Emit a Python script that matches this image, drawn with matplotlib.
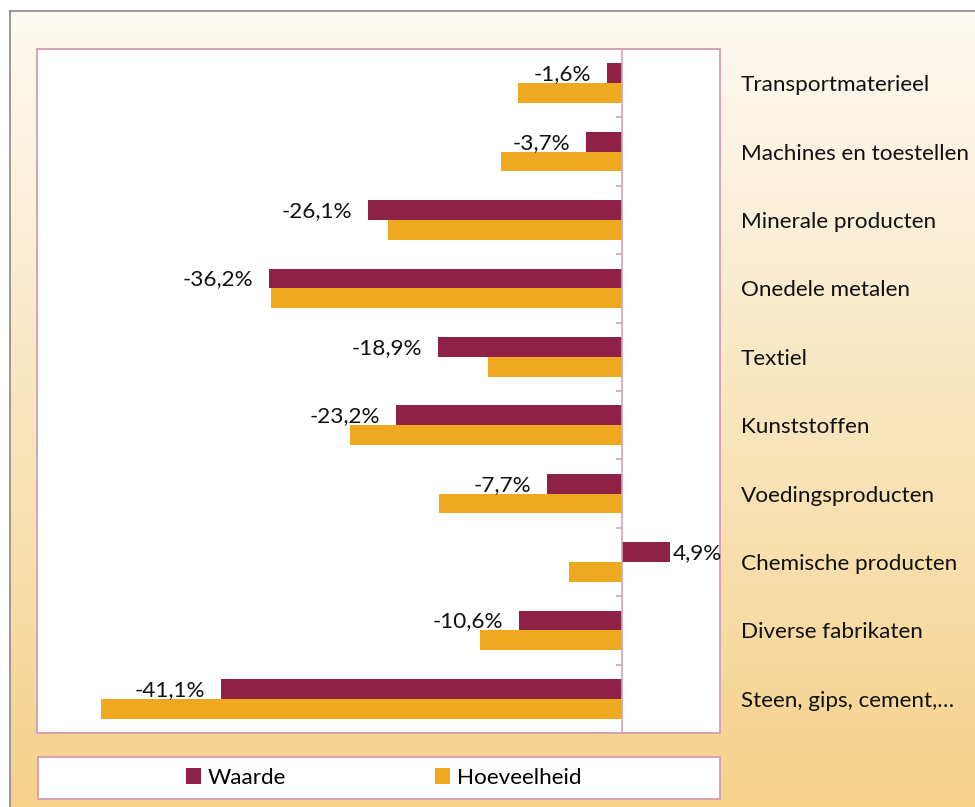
import numpy as np
import matplotlib
matplotlib.use("Agg")
import matplotlib.pyplot as plt
from matplotlib.patches import Rectangle, Patch
from matplotlib.transforms import blended_transform_factory, offset_copy

categories = ["Transportmaterieel", "Machines en toestellen", "Minerale producten",
              "Onedele metalen", "Textiel", "Kunststoffen", "Voedingsproducten",
              "Chemische producten", "Diverse fabrikaten", "Steen, gips, cement,…"]
waarde = [-1.6, -3.7, -26.1, -36.2, -18.9, -23.2, -7.7, 4.9, -10.6, -41.1]
hoeveelheid = [-10.7, -12.4, -24.0, -36.0, -13.8, -27.9, -18.8, -5.5, -14.6, -53.4]
series_names = ["Waarde", "Hoeveelheid"]

C_W = "#8E2246"
C_H = "#EFA822"
PINK = "#D6A2B4"
FS = 16.2

plt.rcParams['font.family'] = ['Lato', 'DejaVu Sans']

W, H = 975, 807
fig = plt.figure(figsize=(W / 100, H / 100), dpi=100)
fig.patch.set_facecolor("white")

def fx(px):
    return px / W

def fy(py):
    return 1 - py / H

# background gradient
bg = fig.add_axes([fx(10), 0, 1 - fx(10), fy(11)])
grad = np.linspace(0, 1, 256).reshape(-1, 1)
top = np.array([0xFD, 0xFA, 0xF3]) / 255
bot = np.array([0xF5, 0xD2, 0x8C]) / 255
img = top[None, None, :] * (1 - grad[:, :, None]) + bot[None, None, :] * grad[:, :, None]
bg.imshow(img, aspect="auto", extent=[0, 1, 0, 1], origin="upper")
bg.set_xlim(0, 1); bg.set_ylim(0, 1)
bg.set_xticks([]); bg.set_yticks([])
for s in ["right", "bottom"]:
    bg.spines[s].set_visible(False)
for s in ["left", "top"]:
    bg.spines[s].set_color("#8A8A8A")
    bg.spines[s].set_linewidth(1.2)

# main plot
ax = fig.add_axes([fx(37), fy(733), fx(720) - fx(37), fy(49) - fy(733)])
ax.set_facecolor("white")
y = np.arange(len(categories))
bh = 0.29
ax.barh(y - bh / 2, waarde, height=bh, color=C_W, label=series_names[0], zorder=2)
ax.barh(y + bh / 2, hoeveelheid, height=bh, color=C_H, label=series_names[1], zorder=2)
ax.set_xlim(-60, 10)
ax.set_ylim(len(categories) - 0.5, -0.5)

for s in ["top", "right", "bottom"]:
    ax.spines[s].set_visible(False)
ax.spines["left"].set_position(("data", 0))
ax.spines["left"].set_color(PINK)
ax.spines["left"].set_linewidth(1.2)
ax.spines["left"].set_zorder(3)
ax.set_xticks([])
ax.set_yticks(y)
ax.set_yticklabels([])
ax.tick_params(axis="y", which="major", length=0)
ax.set_yticks(np.arange(len(categories) + 1) - 0.5, minor=True)
ax.tick_params(axis="y", which="minor", length=4.5, width=1.2, color=PINK, direction="out")

ax.add_patch(Rectangle((0, 0), 1, 1, transform=ax.transAxes, fill=False,
                       edgecolor=PINK, linewidth=1.4, clip_on=False, zorder=4))

for yi, v in zip(y, waarde):
    lab = f"{v:.1f}%".replace(".", ",")
    if v < 0:
        ax.annotate(lab, (v, yi - bh / 2), xytext=(-16, -1), textcoords="offset pixels",
                    ha="right", va="center", fontsize=FS, color="#111111", zorder=5)
    else:
        ax.annotate(lab, (v, yi - bh / 2), xytext=(2, -1), textcoords="offset pixels",
                    ha="left", va="center", fontsize=FS, color="#111111", zorder=5,
                    annotation_clip=False)

tr = offset_copy(blended_transform_factory(fig.transFigure, ax.transData),
                 fig=fig, x=0, y=-2, units="dots")
for yi, c in zip(y, categories):
    fig.text(fx(741), yi, c, transform=tr, ha="left", va="center",
             fontsize=FS, color="#111111")

# legend box
lax = fig.add_axes([fx(38), fy(799), fx(720) - fx(38), fy(757) - fy(799)])
lax.set_facecolor("white")
lax.set_xticks([]); lax.set_yticks([])
for s in lax.spines.values():
    s.set_color(PINK)
    s.set_linewidth(1.4)
handles = [Patch(facecolor=C_W, edgecolor="none"), Patch(facecolor=C_H, edgecolor="none")]
lax.legend(handles, series_names, loc="center", ncol=2, frameon=False,
           fontsize=FS, handlelength=0.68, handleheight=0.68, handletextpad=0.3,
           columnspacing=6.6, bbox_to_anchor=(0.507, 0.5))

fig.savefig("out.png", dpi=100)
